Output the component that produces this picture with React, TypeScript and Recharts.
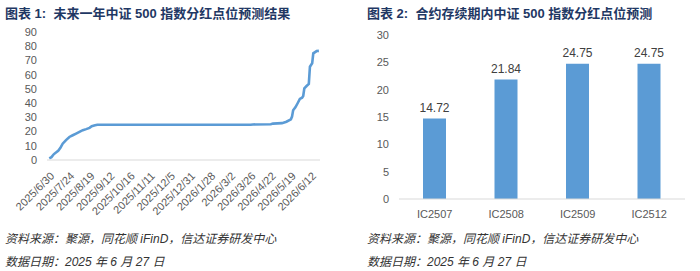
import { Bar, BarChart, LabelList, Line, LineChart, XAxis, YAxis } from "recharts";

// left panel: forecast dividend points, index = trading day since 2025/6/30
const tickDates = [
  "2025/6/30", "2025/7/24", "2025/8/19", "2025/9/12", "2025/10/16", "2025/11/11", "2025/12/5",
  "2025/12/31", "2026/1/28", "2026/3/2", "2026/3/26", "2026/4/22", "2026/5/19", "2026/6/12",
];
const tickIndex = [0, 18, 36, 54, 72, 90, 108, 126, 144, 162, 180, 198, 216, 234];

const dayIndex = [
  0, 2, 4, 6, 8, 10, 12, 15, 18, 21, 24, 27, 30, 33, 36, 38, 41, 43,
  180, 182, 198, 200, 208, 212, 216, 217, 218, 220, 222, 224, 226, 227, 228, 230, 232, 233, 235, 236, 239, 241,
];
const dividendPoints = [
  1.2, 2.0, 4.0, 5.2, 6.5, 8.5, 11.5, 14.0, 16.2, 17.4, 18.6, 19.8, 21.0, 21.7, 22.6, 23.8, 24.4, 24.75,
  24.75, 25.0, 25.1, 25.6, 25.9, 26.9, 28.6, 30.5, 35.0, 37.0, 39.9, 42.9, 43.8, 45.0, 50.4, 52.0, 53.5, 65.6, 68.0, 75.0, 76.6, 76.7,
];
const leftTicks = [0, 10, 20, 30, 40, 50, 60, 70, 80, 90];

// right panel: per contract
const contracts = ["IC2507", "IC2508", "IC2509", "IC2512"];
const contractPoints = [14.72, 21.84, 24.75, 24.75];
const rightTicks = [0, 5, 10, 15, 20, 25, 30];

const lineData = dayIndex.map((i, k) => ({ i, v: dividendPoints[k] }));
const barData = contracts.map((name, k) => ({ name, v: contractPoints[k] }));

const BLUE = "#5B9BD5";
const GREY = "#595959";
const FONT = "'Liberation Sans', Arial, 'Noto Sans CJK SC', sans-serif";
const CJK = "'Liberation Sans', 'Noto Sans CJK SC', sans-serif";

const DateTick = (props: any) => {
  const { x, y, payload } = props;
  const k = tickIndex.indexOf(payload.value);
  return (
    <text
      x={x + 3}
      y={y + 6}
      transform={`rotate(-45 ${x + 3} ${y + 6})`}
      textAnchor="end"
      dy="0.35em"
      fill={GREY}
      fontSize={11}
      fontFamily={FONT}
    >
      {tickDates[k]}
    </text>
  );
};

const Title = ({ x, text }: { x: number; text: string }) => (
  <div
    style={{
      position: "absolute",
      left: x,
      top: 3,
      fontFamily: CJK,
      fontWeight: "bold",
      fontSize: 13,
      color: "#1F3864",
      whiteSpace: "pre",
    }}
  >
    {text}
  </div>
);

const Footer = ({ x }: { x: number }) => (
  <div
    style={{
      position: "absolute",
      left: x,
      top: 228,
      fontFamily: CJK,
      fontStyle: "italic",
      fontSize: 12,
      color: "#333",
      lineHeight: "23px",
      whiteSpace: "pre",
    }}
  >
    <div>资料来源：聚源，同花顺 iFinD，信达证券研发中心</div>
    <div>数据日期：2025 年 6 月 27 日</div>
  </div>
);

const App = () => {
  return (
    <div style={{ position: "absolute", left: 0, top: 0, width: 700, height: 271, background: "#fff", overflow: "hidden" }}>
      <Title x={5} text={"图表 1:  未来一年中证 500 指数分红点位预测结果"} />
      <Title x={367} text={"图表 2:  合约存续期内中证 500 指数分红点位预测"} />

      <div style={{ position: "absolute", left: 0, top: 0 }}>
        <LineChart width={340} height={230} data={lineData} margin={{ top: 32, right: 20, bottom: 0, left: 0 }}>
          <XAxis
            dataKey="i"
            type="number"
            domain={[-2, 242]}
            ticks={tickIndex}
            interval={0}
            height={70}
            tick={<DateTick />}
            tickLine={false}
            axisLine={{ stroke: "#D9D9D9" }}
          />
          <YAxis
            domain={[0, 90]}
            ticks={leftTicks}
            interval={0}
            width={47}
            tickSize={0}
            tickMargin={10}
            axisLine={false}
            tickLine={false}
            tick={{ fill: GREY, fontSize: 11, fontFamily: FONT }}
          />
          <Line type="linear" dataKey="v" stroke={BLUE} strokeWidth={2.6} dot={false} isAnimationActive={false} />
        </LineChart>
      </div>

      <div style={{ position: "absolute", left: 350, top: 0 }}>
        <BarChart width={350} height={229} data={barData} margin={{ top: 35, right: 15, bottom: 0, left: 0 }}>
          <XAxis
            dataKey="name"
            height={30}
            interval={0}
            tickSize={0}
            tickMargin={11}
            tickLine={false}
            axisLine={{ stroke: "#D9D9D9" }}
            tick={{ fill: GREY, fontSize: 11, fontFamily: FONT }}
          />
          <YAxis
            domain={[0, 30]}
            ticks={rightTicks}
            interval={0}
            width={49}
            tickSize={0}
            tickMargin={10}
            axisLine={false}
            tickLine={false}
            tick={{ fill: GREY, fontSize: 11, fontFamily: FONT }}
          />
          <Bar dataKey="v" fill={BLUE} barSize={23} isAnimationActive={false}>
            <LabelList dataKey="v" position="top" offset={7} fill="#404040" fontSize={12} fontFamily={FONT} />
          </Bar>
        </BarChart>
      </div>

      <Footer x={5} />
      <Footer x={367} />
    </div>
  );
};

export default App;
